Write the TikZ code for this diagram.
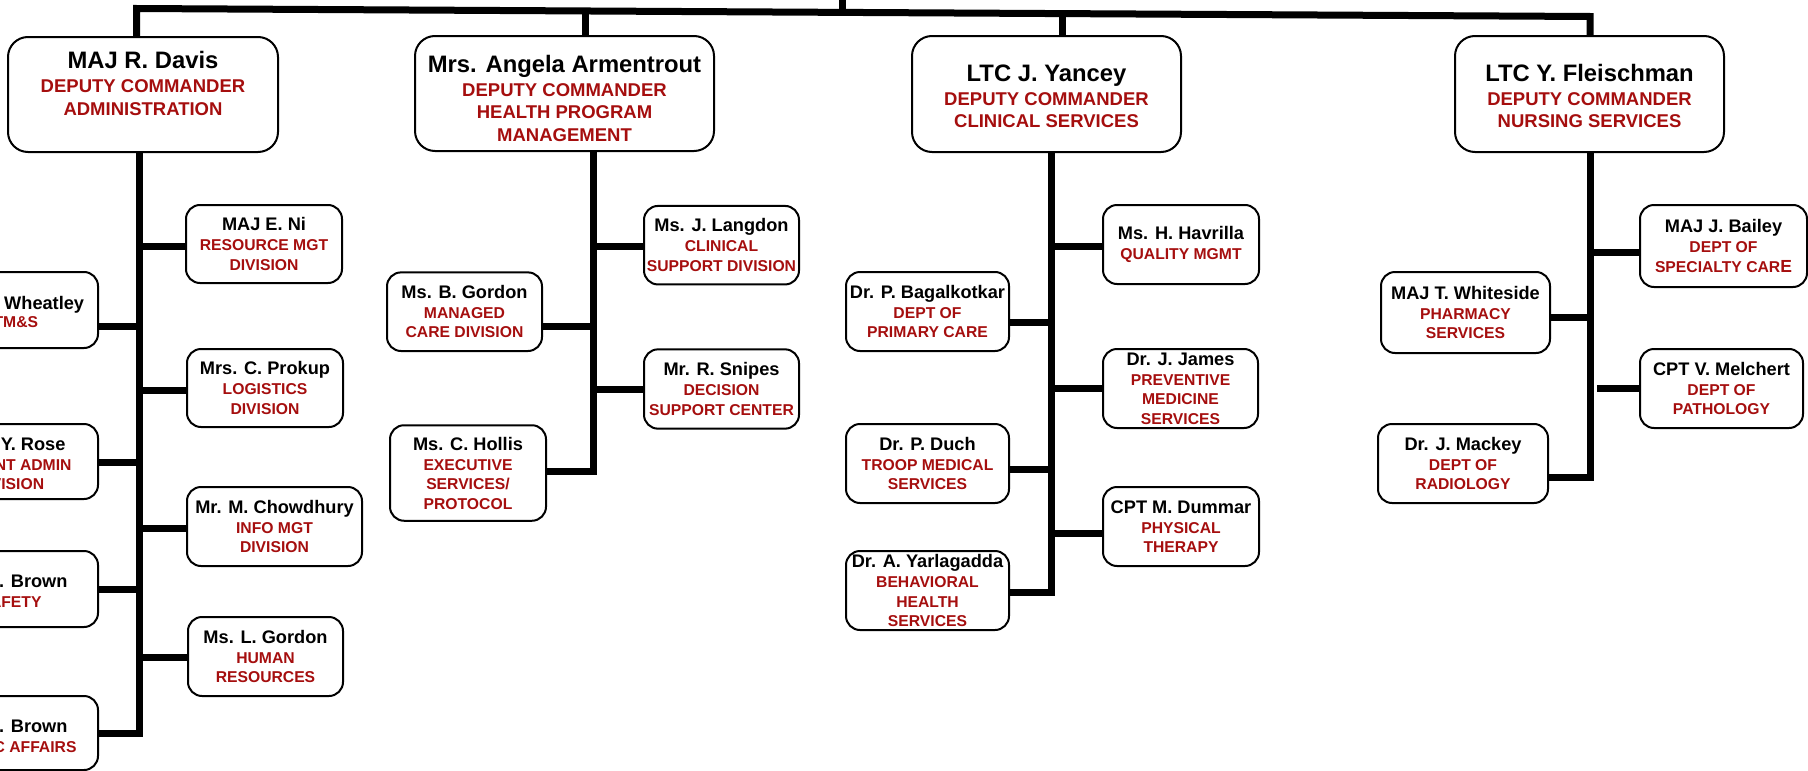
\documentclass[tikz,border=0pt]{standalone}
\usepackage{fontspec}
\setmainfont{Liberation Sans}
\definecolor{dred}{RGB}{165,14,14}
\tikzset{
  conn/.style={line width=7pt, line join=miter, line cap=butt},
  bigbox/.style={draw, line width=2pt, rounded corners=20pt, inner sep=0pt, align=center,
    font=\fontsize{18.5}{22.5}\selectfont\bfseries, text=dred},
  smallbox/.style={draw, line width=2pt, rounded corners=14pt, inner sep=0pt, align=center,
    font=\fontsize{15.7}{19.5}\selectfont\bfseries, text=dred},
  cut/.style={inner sep=0pt, font=\fontsize{15.7}{19.5}\selectfont\bfseries, text=dred, anchor=base east},
  cutname/.style={inner sep=0pt, font=\fontsize{18.2}{19.5}\selectfont\bfseries, text=black, anchor=base east},
}
\newcommand{\bn}[1]{{\fontsize{23.8}{22.5}\selectfont\color{black}#1}\\[1.5pt]}
\newcommand{\sn}[1]{{\fontsize{18.2}{19.5}\selectfont\color{black}#1}\\[0.5pt]}
\begin{document}
\begin{tikzpicture}[x=1pt,y=-1pt]
\useasboundingbox (0,0) rectangle (1808,771);
\clip (0,0) rectangle (1808,771);

% ---- deputy commanders
\node[bigbox, minimum width=270pt, minimum height=115pt] (davis) at (143,94.5)
  {\bn{MAJ R. Davis}DEPUTY COMMANDER\\ADMINISTRATION\\\mbox{}};
\node[bigbox, minimum width=299pt, minimum height=115pt] (armentrout) at (564.5,93.5)
  {\mbox{}\\[4.5pt]\bn{Mrs. Angela Armentrout}DEPUTY COMMANDER\\HEALTH PROGRAM\\MANAGEMENT};
\node[bigbox, minimum width=269pt, minimum height=116pt] (yancey) at (1046.5,94)
  {\mbox{}\\[-1pt]\bn{LTC J. Yancey}DEPUTY COMMANDER\\CLINICAL SERVICES};
\node[bigbox, minimum width=269pt, minimum height=116pt] (fleischman) at (1589.5,94)
  {\mbox{}\\[-1pt]\bn{LTC Y. Fleischman}DEPUTY COMMANDER\\NURSING SERVICES};

% ---- administration
\node[smallbox, minimum width=156pt, minimum height=78pt] (ni) at (264,244)
  {\sn{MAJ E. Ni}RESOURCE MGT\\DIVISION};
\node[smallbox, minimum width=156pt, minimum height=78pt] (prokup) at (265,388)
  {\sn{Mrs. C. Prokup}LOGISTICS\\DIVISION};
\node[smallbox, minimum width=175pt, minimum height=79pt] (chowdhury) at (274.5,526.5)
  {\sn{Mr. M. Chowdhury}INFO MGT\\DIVISION};
\node[smallbox, minimum width=155pt, minimum height=79pt] (lgordon) at (265.5,656.5)
  {\sn{Ms. L. Gordon}HUMAN\\RESOURCES};
\node[smallbox, minimum width=158pt, minimum height=76pt] (wheatley) at (19,310) {};
\node[smallbox, minimum width=158pt, minimum height=75pt] (rose) at (19,461.5) {};
\node[smallbox, minimum width=158pt, minimum height=76pt] (brownS) at (19,589) {};
\node[smallbox, minimum width=158pt, minimum height=74pt] (brownP) at (19,733) {};
\node[cutname] (wheatleyN) at (84.3,309) {Wheatley};
\node[cut] (wheatleyR) at (38.3,327.5) {TM\&S};
\node[cutname] (roseN) at (65.7,450) {Y. Rose};
\node[cut] (roseR1) at (71.7,470) {NT ADMIN};
\node[cut] (roseR2) at (44.3,489) {VISION};
\node[cutname] (brownSN) at (67.7,587.3) {. Brown};
\node[cut] (brownSR) at (41.7,607.3) {AFETY};
\node[cutname] (brownPN) at (67.7,732.3) {. Brown};
\node[cut] (brownPR) at (76.7,752.3) {C AFFAIRS};

% ---- health program management
\node[smallbox, minimum width=155pt, minimum height=78.5pt] (langdon) at (721.5,245.2)
  {\sn{Ms. J. Langdon}CLINICAL\\SUPPORT DIVISION};
\node[smallbox, minimum width=155pt, minimum height=78.6pt] (bgordon) at (464.5,311.7)
  {\sn{Ms. B. Gordon}MANAGED\\CARE DIVISION};
\node[smallbox, minimum width=155pt, minimum height=79.3pt] (snipes) at (721.5,389)
  {\sn{Mr. R. Snipes}DECISION\\SUPPORT CENTER};
\node[smallbox, minimum width=156pt, minimum height=95.5pt] (hollis) at (468,473)
  {\sn{Ms. C. Hollis}EXECUTIVE\\SERVICES/\\PROTOCOL};

% ---- clinical services
\node[smallbox, minimum width=156pt, minimum height=79pt] (havrilla) at (1181,244.5)
  {\sn{Ms. H. Havrilla}QUALITY MGMT};
\node[smallbox, minimum width=163pt, minimum height=79pt] (bagalkotkar) at (927.5,311.5)
  {\sn{Dr. P. Bagalkotkar}DEPT OF\\PRIMARY CARE};
\node[smallbox, minimum width=155pt, minimum height=79pt] (james) at (1180.5,388.5)
  {\sn{Dr. J. James}PREVENTIVE\\MEDICINE\\SERVICES};
\node[smallbox, minimum width=163pt, minimum height=79pt] (duch) at (927.5,463.5)
  {\sn{Dr. P. Duch}TROOP MEDICAL\\SERVICES};
\node[smallbox, minimum width=156pt, minimum height=79pt] (dummar) at (1181,526.5)
  {\sn{CPT M. Dummar}PHYSICAL\\THERAPY};
\node[smallbox, minimum width=163pt, minimum height=79pt] (yarlagadda) at (927.5,590.5)
  {\sn{Dr. A. Yarlagadda}BEHAVIORAL\\HEALTH\\SERVICES};

% ---- nursing services
\node[smallbox, minimum width=167pt, minimum height=82pt] (bailey) at (1723.5,246)
  {\sn{MAJ J. Bailey}DEPT OF\\SPECIALTY CAR{\fontsize{17.5}{19.5}\selectfont E}};
\node[smallbox, minimum width=169pt, minimum height=81pt] (whiteside) at (1465.5,312.5)
  {\sn{MAJ T. Whiteside}PHARMACY\\SERVICES};
\node[smallbox, minimum width=163pt, minimum height=79pt] (melchert) at (1721.5,388.5)
  {\sn{CPT V. Melchert}DEPT OF\\PATHOLOGY};
\node[smallbox, minimum width=170pt, minimum height=79pt] (mackey) at (1463,463.5)
  {\sn{Dr. J. Mackey}DEPT OF\\RADIOLOGY};

% ---- top bar
\coordinate (top) at (842,0);
\coordinate (barL) at (136.5,8.5);
\coordinate (barR) at (1590,16.5);
\draw[conn] (davis.north -| barL) -- (barL) -- (barR) -- (fleischman.north -| barR);
\draw[conn] (top) -- (842,12.5);
\draw[conn] (armentrout.north -| 585.5,0) -- (585.5,10);
\draw[conn] (yancey.north -| 1062,0) -- (1062,13);

% ---- trunks
\coordinate (dT) at (139,0);
\coordinate (aT) at (593,0);
\coordinate (yT) at (1051,0);
\coordinate (fT) at (1590,0);

\draw[conn] (brownP.east |- 0,733) -- (dT |- 0,733) -- (dT |- davis.south);
\draw[conn] (ni.west |- 0,246) -- (dT |- 0,246);
\draw[conn] (prokup.west |- 0,390) -- (dT |- 0,390);
\draw[conn] (chowdhury.west |- 0,528) -- (dT |- 0,528);
\draw[conn] (lgordon.west |- 0,657) -- (dT |- 0,657);
\draw[conn] (wheatley.east |- 0,326) -- (dT |- 0,326);
\draw[conn] (rose.east |- 0,462) -- (dT |- 0,462);
\draw[conn] (brownS.east |- 0,589) -- (dT |- 0,589);

\draw[conn] (hollis.east |- 0,471.5) -- (aT |- 0,471.5) -- (aT |- armentrout.south);
\draw[conn] (langdon.west |- 0,246) -- (aT |- 0,246);
\draw[conn] (bgordon.east |- 0,326) -- (aT |- 0,326);
\draw[conn] (snipes.west |- 0,389.5) -- (aT |- 0,389.5);

\draw[conn] (yarlagadda.east |- 0,592) -- (yT |- 0,592) -- (yT |- yancey.south);
\draw[conn] (havrilla.west |- 0,246) -- (yT |- 0,246);
\draw[conn] (bagalkotkar.east |- 0,322) -- (yT |- 0,322);
\draw[conn] (james.west |- 0,388) -- (yT |- 0,388);
\draw[conn] (duch.east |- 0,469) -- (yT |- 0,469);
\draw[conn] (dummar.west |- 0,533) -- (yT |- 0,533);

\draw[conn] (mackey.east |- 0,477) -- (fT |- 0,477) -- (fT |- fleischman.south);
\draw[conn] (bailey.west |- 0,252) -- (fT |- 0,252);
\draw[conn] (whiteside.east |- 0,317) -- (fT |- 0,317);
\coordinate (melGap) at (1597,388.5);
\draw[conn] (melchert.west |- melGap) -- (melGap);
\end{tikzpicture}
\end{document}
